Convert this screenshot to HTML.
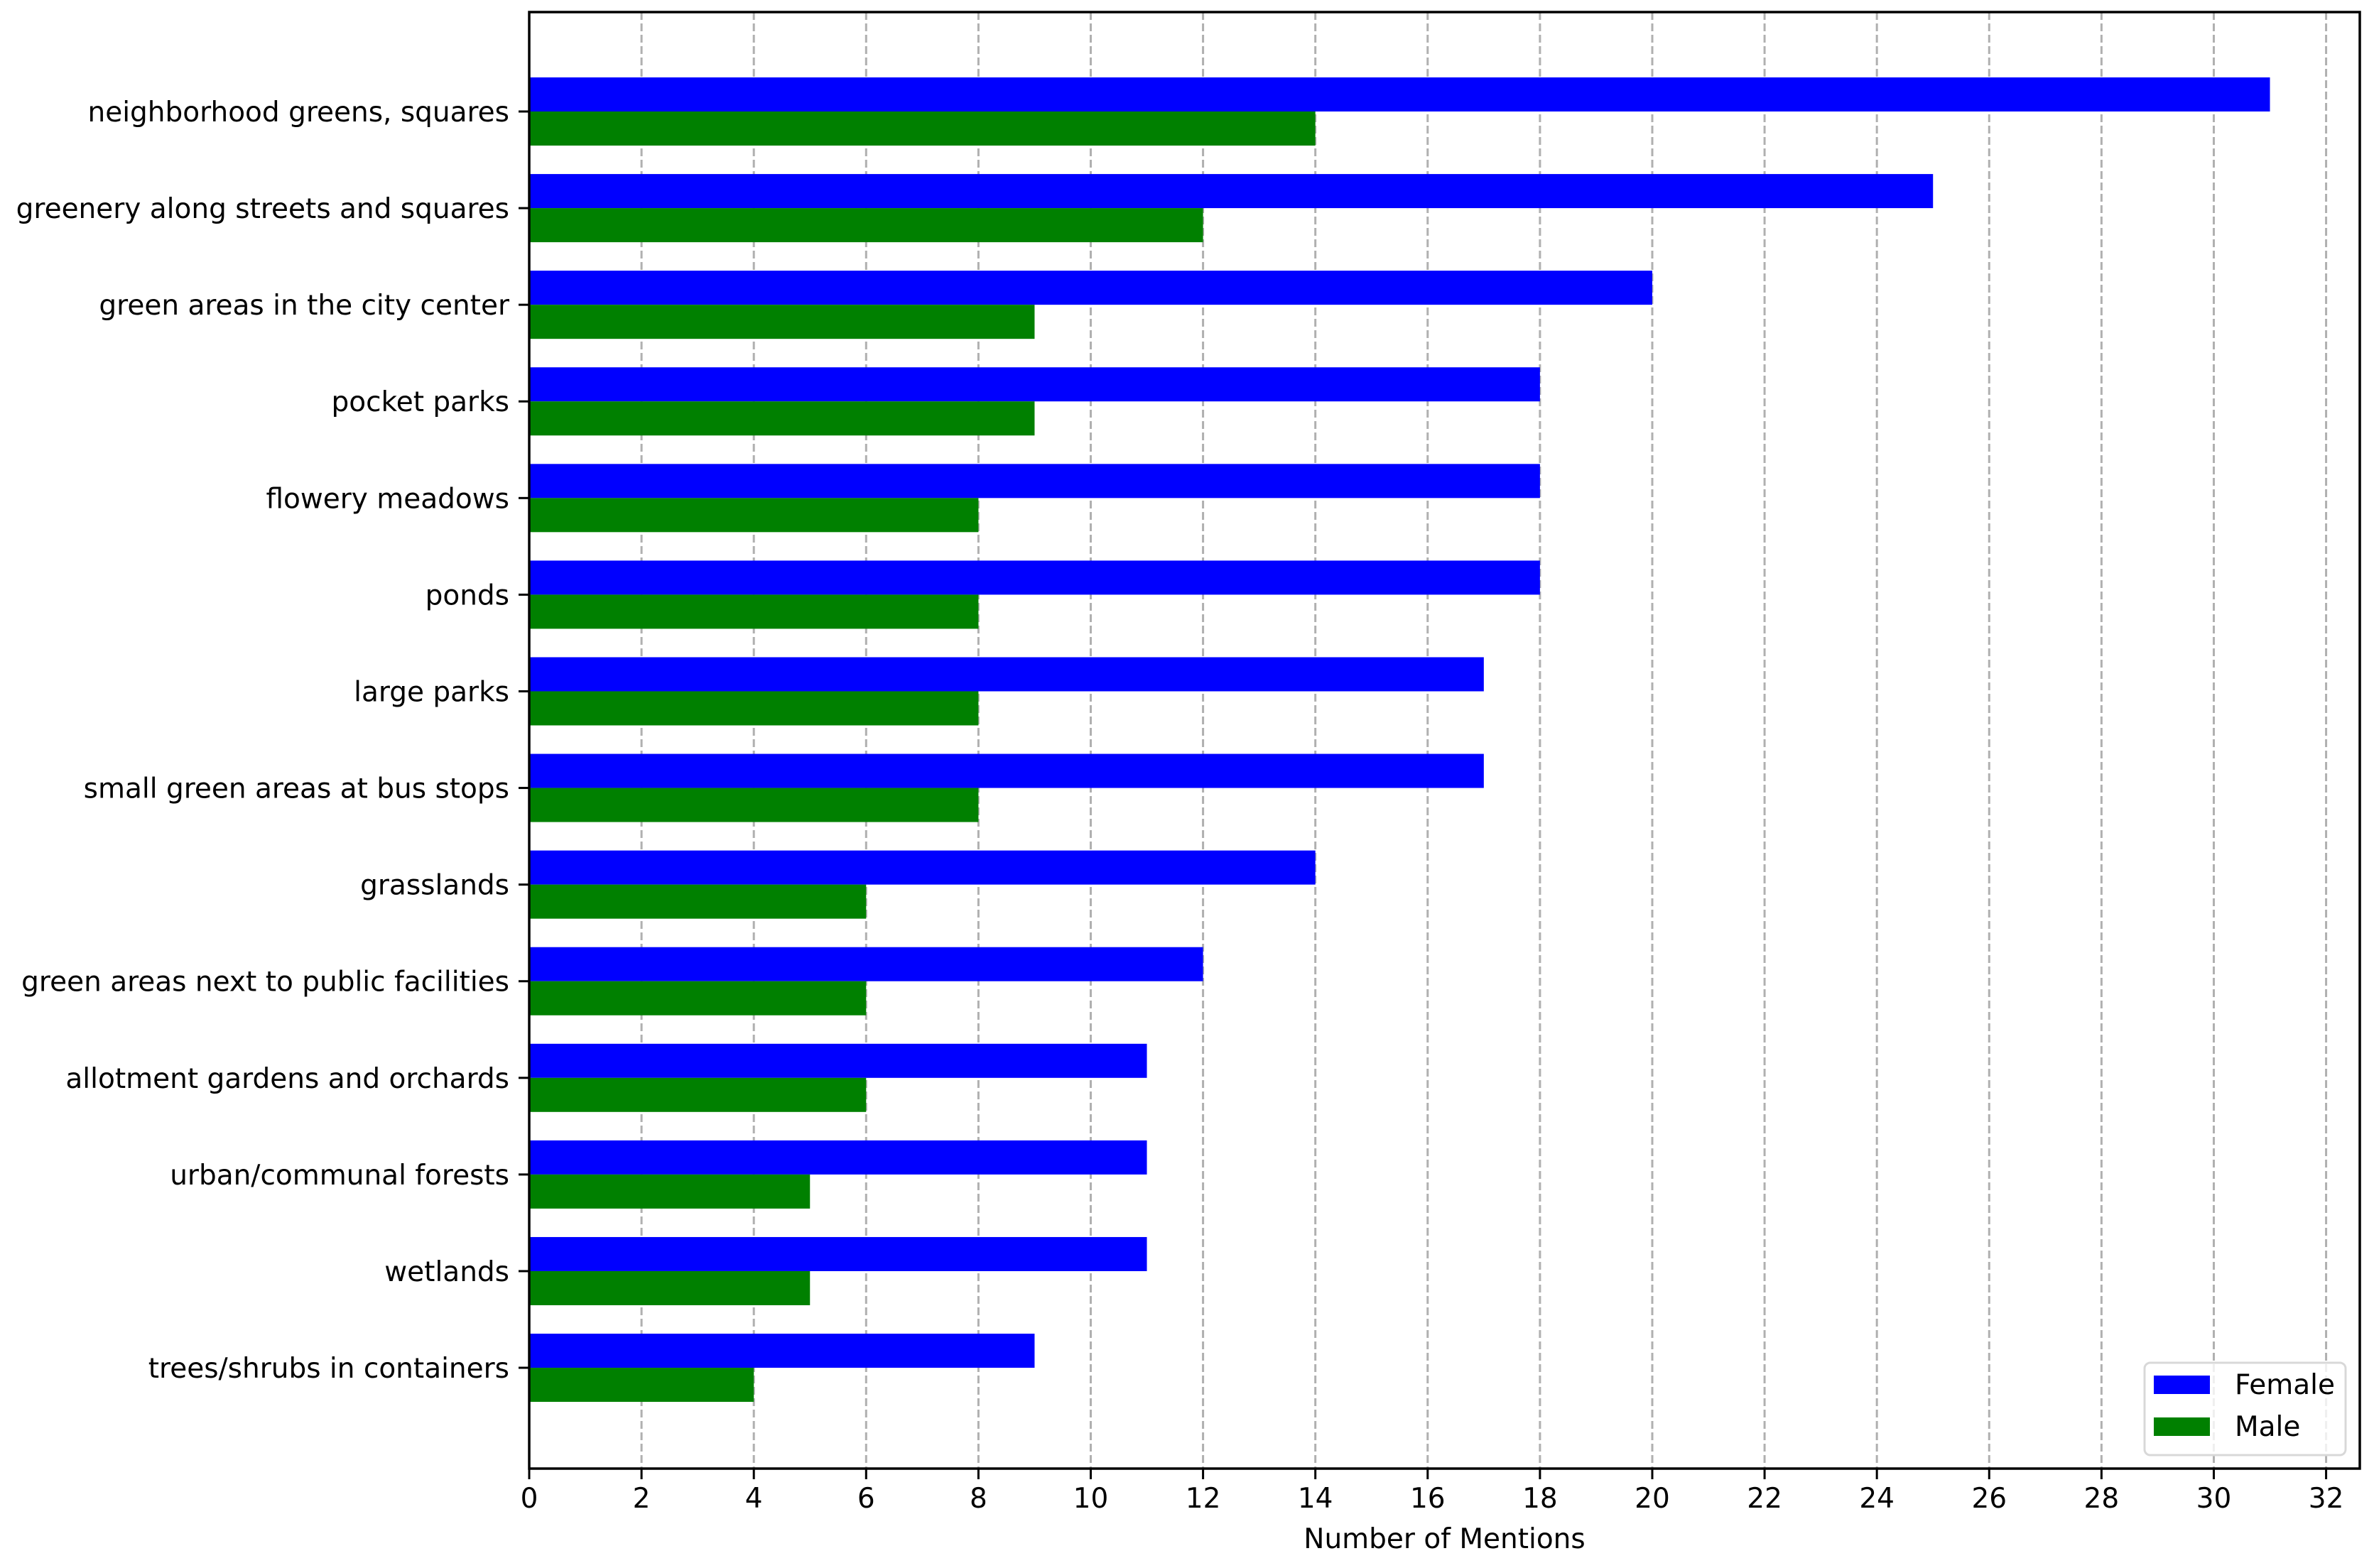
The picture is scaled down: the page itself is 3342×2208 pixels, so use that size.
<!DOCTYPE html>
<html><head><meta charset="utf-8"><style>
html,body{margin:0;padding:0;background:#fff}
svg text{font-family:"DejaVu Sans","Liberation Sans",sans-serif;font-size:39px;fill:#000}
</style></head><body>
<svg id="chart" width="3342" height="2203" xmlns="http://www.w3.org/2000/svg"></svg>
<script>
const categories = ["neighborhood greens, squares","greenery along streets and squares","green areas in the city center","pocket parks","flowery meadows","ponds","large parks","small green areas at bus stops","grasslands","green areas next to public facilities","allotment gardens and orchards","urban/communal forests","wetlands","trees/shrubs in containers"];
const femaleValues = [31,25,20,18,18,18,17,17,14,12,11,11,11,9];
const maleValues = [14,12,9,9,8,8,8,8,6,6,6,5,5,4];
const xTicks = [0,2,4,6,8,10,12,14,16,18,20,22,24,26,28,30,32];

const NS="http://www.w3.org/2000/svg";
const svg=document.getElementById('chart');
const L=745,R=3322,T=17,B=2068;
const xMax=32.6;
const xs=v=>L+v*(R-L)/xMax;
const firstC=157,step=136.08,barH=48;
const ys=i=>firstC+i*step;
function el(t,a,p){const e=document.createElementNS(NS,t);for(const k in a)e.setAttribute(k,a[k]);(p||svg).appendChild(e);return e;}

xTicks.forEach(t=>{
  const g=el('line',{x1:xs(t),x2:xs(t),y1:T,y2:B,stroke:'#b0b0b0','stroke-width':3,'stroke-dasharray':'11,5'});
  
  
});
categories.forEach((c,i)=>{
  const f=el('rect',{x:xs(0),y:ys(i)-barH,width:xs(femaleValues[i])-xs(0),height:barH,fill:'#0000ff'});
  
  
  const m=el('rect',{x:xs(0),y:ys(i),width:xs(maleValues[i])-xs(0),height:barH,fill:'#008000'});
  
  
  const tk=el('line',{x1:L-15,x2:L,y1:ys(i),y2:ys(i),stroke:'#000','stroke-width':3});
  
  
  const lb=el('text',{x:L-28,y:ys(i)+14,'text-anchor':'end'});
  lb.textContent=c;
  
  
});
xTicks.forEach(t=>{
  const tk=el('line',{x1:xs(t),x2:xs(t),y1:B,y2:B+15,stroke:'#000','stroke-width':3});
  
  
  const lb=el('text',{x:xs(t),y:B+55,'text-anchor':'middle'});
  lb.textContent=t;
  
  
});
const frame=el('rect',{x:L,y:T,width:R-L,height:B-T,fill:'none',stroke:'#000','stroke-width':3.5});


const xl=el('text',{x:(L+R)/2,y:2180,'text-anchor':'middle'});
xl.textContent='Number of Mentions';


const lg=el('g',{});


el('rect',{x:3019,y:1919,width:283,height:130,rx:8,fill:'#fff','fill-opacity':0.8,stroke:'#d8d8d8','stroke-width':3},lg);
const p1=el('rect',{x:3032,y:1937,width:79,height:26,fill:'#0000ff'},lg);


const t1=el('text',{x:3146,y:1963},lg);t1.textContent='Female';


const p2=el('rect',{x:3032,y:1996,width:79,height:26,fill:'#008000'},lg);


const t2=el('text',{x:3146,y:2022},lg);t2.textContent='Male';


</script>
</body></html>
